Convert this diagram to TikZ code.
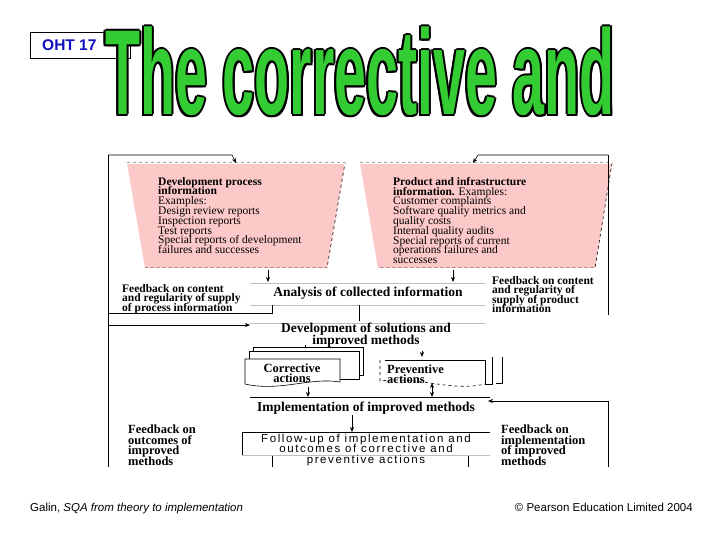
\documentclass[tikz,border=0pt]{standalone}
\usepackage{fontspec}
\setmainfont{Liberation Serif}
\setsansfont{Liberation Sans}
\usetikzlibrary{arrows.meta}
\definecolor{ttlgreen}{HTML}{33CC33}
\definecolor{pinkfill}{HTML}{FCC8C8}
\definecolor{ohtblue}{HTML}{1010C0}
\newcommand{\tightls}{\lineskiplimit=-30pt\lineskip=0pt}
\tikzset{
  every node/.style={inner sep=0pt},
  lbl/.style={font=\fontsize{11.5}{9.6}\selectfont\bfseries\tightls, align=left, anchor=north west},
  trap/.style={draw, dashed, fill=pinkfill, line width=0.6pt},
  box/.style={font=\fontsize{11.5}{9.8}\selectfont\tightls, align=left, anchor=north west},
  mid/.style={font=\fontsize{13.5}{11.5}\selectfont\bfseries\tightls, align=center},
  arr/.style={-{Stealth[length=5pt,width=4pt]}, line width=0.6pt},
  ln/.style={line width=0.6pt},
  gl/.style={draw=gray!50, line width=0.6pt},
  ttl/.style={font=\sffamily\bfseries\fontsize{121}{121}\selectfont, anchor=base}
}
\newcommand{\ttltext}{\scalebox{0.474}[1]{The corrective and}}
\begin{document}
\begin{tikzpicture}[x=1pt,y=-1pt]
\useasboundingbox (0,0) rectangle (720,540);
% OHT box
\node[draw, minimum width=100pt, minimum height=26pt, anchor=north west, line width=0.6pt] (oht) at (30,32) {};
\node[font=\sffamily\bfseries\fontsize{15.5}{15}\selectfont, text=ohtblue, anchor=west] (ohtt) at (42,45) {OHT 17};
% title with fake outline
\foreach \dx/\dy in {-2/0,2/0,0/-2,0/2,-1.5/-1.5,1.5/1.5,-1.5/1.5,1.5/-1.5}{
  \node[ttl, text=black] at (360+\dx,115+\dy) {\ttltext};
}
\node[ttl, text=ttlgreen] (title) at (360,115) {\ttltext};
% trapezoids
\draw[trap] (127,163) -- (345,163) -- (327,268) -- (145,268);
\draw[trap] (360,163) -- (612,163) -- (595,268) -- (378,268);
\draw[ln,draw=white] (127,163) -- (345,163);
\draw[ln,draw=white] (360,163) -- (612,163);
\draw[ln,draw=white] (145,268) -- (327,268);
\draw[ln,draw=white] (378,268) -- (595,268);
\node[box] (dev) at (158,177) {\textbf{Development process}\\\textbf{information}\\Examples:\\Design review reports\\Inspection reports\\Test reports\\Special reports of development\\failures and successes};
\node[box] (prod) at (393,177) {\textbf{Product and infrastructure}\\\textbf{information.} Examples:\\Customer complaints\\Software quality metrics and\\quality costs\\Internal quality audits\\Special reports of current\\operations failures and\\successes};
% top feedback loop lines
\coordinate (tl) at (108,155);
\coordinate (tr) at (608,155);
\draw[arr] (tl) -- (232,155) -- (236,163);
\draw[arr] (tr) -- (478,155) -- (473,163);
\draw[ln] (108,155) -- (108,467);
\draw[ln] (608,155) -- (608,315);
% arrows to analysis
\draw[arr] (268,270) -- (268,282);
\draw[arr] (453,270) -- (453,282);
\draw[gl] (250,283) -- (485,283);
\draw[gl] (250,305) -- (485,305);
\node[mid] (anal) at (368,293) {Analysis of collected information};
\node[lbl] (fbl) at (122,284) {Feedback on content\\and regularity of supply\\of process information};
\node[lbl] (fbr) at (492,276) {Feedback on content\\and regularity of\\supply of product\\information};
\draw[ln] (108,313) -- (272,313) -- (272,305);
\draw[ln] (359,305) -- (359,321);
% development
\draw[arr] (108,325) -- (250,325);
\draw[gl] (250,323) -- (485,323);
\node[mid] (devsol) at (366,335) {Development of solutions and\\improved methods};
\draw[arr] (305,345) -- (305,358);
\draw[arr] (422,351) -- (422,357);
% corrective docs
\foreach \o in {8,4}{
  \draw[ln, fill=white] (245+\o,355-\o) -- (355+\o,355-\o) -- (355+\o,383-\o) -- (245+\o,383-\o) -- cycle;
}
\draw[ln, fill=white] (245,359) -- (340,359) -- (340,382) .. controls (310,377) and (280,392) .. (245,384) -- cycle;
\node[font=\fontsize{12.5}{10.5}\selectfont\bfseries\tightls, align=center] (corr) at (292,373) {Corrective\\actions};
% preventive
\draw[ln] (385,360) -- (485,360);
\draw[ln] (485,360) -- (485,384) -- (492,384) -- (492,357);
\draw[ln] (496,383) -- (502,383) -- (502,357);
\draw[ln, dashed] (380,360) -- (380,381) .. controls (420,376) and (450,392) .. (485,384);
\node[font=\fontsize{12.5}{10.5}\selectfont\bfseries\tightls, align=left, anchor=west] (prev) at (387,374) {Preventive\\actions};
\draw[arr] (308,387) -- (308,397);
\draw[arr] (432,386) -- (432,397);
\draw[arr] (432,391) -- (432,383);
% implementation
\draw[ln] (250,397) -- (490,397);
\node[mid] (impl) at (366,408) {Implementation of improved methods};
\draw[arr] (608,401) -- (488,401);
\draw[ln] (608,401) -- (608,467);
\draw[arr] (352,415) -- (352,432);
% follow-up
\draw[ln] (242,455) -- (242,432) -- (490,432);
\draw[ln] (272,455) -- (272,467);
\draw[ln] (468,455) -- (468,467);
\draw[gl] (242,455) -- (490,455);
\node[font=\sffamily\fontsize{11.5}{10.6}\selectfont\tightls, align=center] (fol) at (366,450) {\addfontfeature{LetterSpace=14}Follow-up of implementation and\\\addfontfeature{LetterSpace=14}outcomes of corrective and\\\addfontfeature{LetterSpace=14}preventive actions};
\node[lbl, font=\fontsize{12.5}{10.5}\selectfont\bfseries\tightls] (fbo) at (128,425) {Feedback on\\outcomes of\\improved\\methods};
\node[lbl, font=\fontsize{12.5}{10.5}\selectfont\bfseries\tightls] (fbi) at (501,425) {Feedback on\\implementation\\of improved\\methods};
% footer
\node[font=\sffamily\fontsize{11.5}{11}\selectfont, anchor=base west] (foot1) at (30,511) {Galin, \textit{SQA from theory to implementation}};
\node[font=\sffamily\fontsize{11.5}{11}\selectfont, anchor=base east] (foot2) at (693,511) {© Pearson Education Limited 2004};
\end{tikzpicture}
\end{document}
